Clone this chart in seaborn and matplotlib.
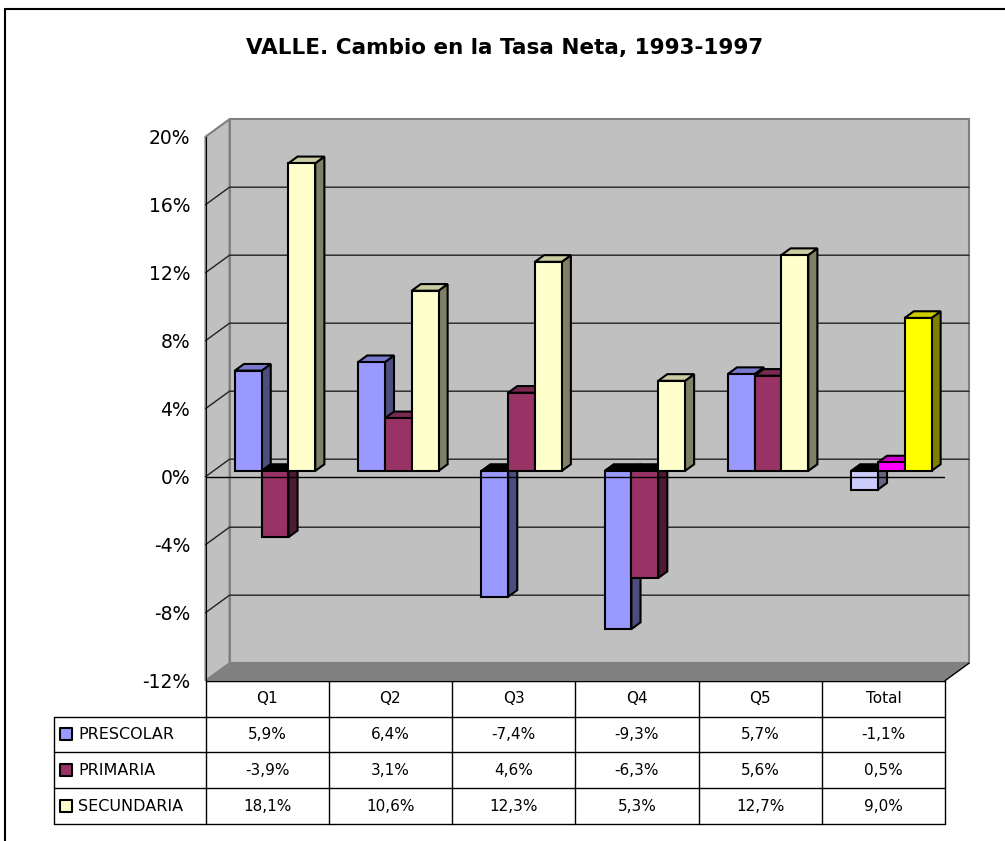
import matplotlib
matplotlib.use("Agg")
import matplotlib.pyplot as plt
from matplotlib.patches import Polygon, Rectangle
from matplotlib.lines import Line2D
from matplotlib.colors import to_rgb
import seaborn as sns
import pandas as pd

# datos
categorias = ["Q1", "Q2", "Q3", "Q4", "Q5", "Total"]
niveles = ["PRESCOLAR", "PRIMARIA", "SECUNDARIA"]
prescolar = [5.9, 6.4, -7.4, -9.3, 5.7, -1.1]
primaria = [-3.9, 3.1, 4.6, -6.3, 5.6, 0.5]
secundaria = [18.1, 10.6, 12.3, 5.3, 12.7, 9.0]
y_ticks = [-12, -8, -4, 0, 4, 8, 12, 16, 20]

colores = {"PRESCOLAR": "#9999FF", "PRIMARIA": "#993366", "SECUNDARIA": "#FFFFCC"}
colores_total = {"PRESCOLAR": "#CCCCFF", "PRIMARIA": "#FF00FF", "SECUNDARIA": "#FFFF00"}

df = pd.DataFrame({
    "Cuartil": categorias * 3,
    "Nivel": [n for n in niveles for _ in categorias],
    "Cambio": prescolar + primaria + secundaria,
})


def oscuro(c, f):
    r, g, b = to_rgb(c)
    return (r * f, g * f, b * f)


sns.set_style("white")
plt.rcParams["font.family"] = ["DejaVu Sans"]
plt.rcParams["text.color"] = "black"
plt.rcParams["ytick.color"] = "black"
plt.rcParams["xtick.color"] = "black"

W, H = 1005, 841
fig = plt.figure(figsize=(W / 100, H / 100), dpi=100)

# plano frontal del grafico (pixeles)
ax_l, ax_r, ax_t, ax_b = 205.5, 945, 136.7, 680.7
ax = fig.add_axes([ax_l / W, 1 - ax_b / H, (ax_r - ax_l) / W, (ax_b - ax_t) / H])

sns.barplot(data=df, x="Cuartil", y="Cambio", hue="Nivel", order=categorias,
            hue_order=niveles, palette=colores, width=0.6525, saturation=1,
            edgecolor="black", linewidth=1.5, legend=False, ax=ax)
bars = list(ax.patches)
ax.set_xlim(-0.5, 5.5)
ax.set_ylim(-12, 20)

# profundidad 3D en unidades de datos
DX = 24 / ((ax_r - ax_l) / 6)
DY = 17.5 / ((ax_b - ax_t) / 32)
F0, F1 = 0.33, 0.71

# paredes y piso
ax.add_patch(Rectangle((-0.5 + DX, -12 + DY), 6, 32, fc="#C0C0C0", ec="#808080",
                       lw=1.5, clip_on=False, zorder=0.5))
ax.add_patch(Polygon([(-0.5, -12), (-0.5, 20), (-0.5 + DX, 20 + DY), (-0.5 + DX, -12 + DY)],
                     fc="#C0C0C0", ec="#808080", lw=1.5, clip_on=False, zorder=0.5))
ax.add_patch(Polygon([(-0.5, -12), (5.5, -12), (5.5 + DX, -12 + DY), (-0.5 + DX, -12 + DY)],
                     fc="#808080", ec="none", clip_on=False, zorder=0.6))
ax.plot([5.5, 5.5 + DX], [-12, -12 + DY], color="black", lw=1, clip_on=False, zorder=0.7)
for v in y_ticks[1:-1]:
    ax.plot([-0.5, -0.5 + DX, 5.5 + DX], [v, v + DY, v + DY], color="#222222",
            lw=1, clip_on=False, zorder=0.7)

# barras 3D
info = []
for p in bars:
    cx = p.get_x() + p.get_width() / 2
    cat = int(round(cx))
    serie = niveles[int(round((cx - cat) / p.get_width())) + 1]
    info.append((cx, p, cat, serie))
info.sort(key=lambda t: t[0])

for i, (cx, p, cat, serie) in enumerate(info):
    color = colores_total[serie] if categorias[cat] == "Total" else colores[serie]
    p.set_facecolor(color)
    x0, w = p.get_x(), p.get_width()
    y0, h = p.get_y(), p.get_height()
    lo, hi = min(y0, y0 + h), max(y0, y0 + h)
    fx, fy = F0 * DX, F0 * DY
    dx, dy = (F1 - F0) * DX, (F1 - F0) * DY
    p.set_x(x0 + fx)
    p.set_y(y0 + fy)
    xl, xr = x0 + fx, x0 + fx + w
    yb, yt = lo + fy, hi + fy
    z = 3 + i * 0.05
    ax.add_patch(Polygon([(xr, yb), (xr + dx, yb + dy), (xr + dx, yt + dy), (xr, yt)],
                         fc=oscuro(color, 0.5), ec="black", lw=1.5, zorder=z, clip_on=False))
    techo = "black" if h < 0 else oscuro(color, 0.8)
    ax.add_patch(Polygon([(xl, yt), (xr, yt), (xr + dx, yt + dy), (xl + dx, yt + dy)],
                         fc=techo, ec="black", lw=1.5, zorder=z + 0.01, clip_on=False))
    p.set_zorder(z + 0.02)

ax.axhline(0, color="black", lw=1, zorder=20)

ax.patch.set_visible(False)
for s in ["top", "right"]:
    ax.spines[s].set_visible(False)
ax.spines["left"].set_color("black")
ax.spines["bottom"].set_color("black")
ax.spines["left"].set_zorder(21)
ax.set_xlabel("")
ax.set_ylabel("")
ax.set_xticks([])
ax.set_yticks(y_ticks)
ax.set_yticklabels([f"{t}%" for t in y_ticks], fontsize=13.5)
ax.tick_params(axis="y", length=7, width=1, color="black", pad=4, direction="out")

# tabla de datos
tx_l, tab_b = 54, 824
tab = fig.add_axes([tx_l / W, 1 - tab_b / H, (ax_r - tx_l) / W, (tab_b - ax_b) / H])
x_left = 5.5 - (ax_r - tx_l) / ((ax_r - ax_l) / 6)
tab.set_xlim(x_left, 5.5)
tab.set_ylim(0, 4)
tab.axis("off")

lk = dict(color="black", lw=1, clip_on=False)
tab.plot([-0.5, 5.5], [4, 4], **lk)
for yy in [3, 2, 1, 0]:
    tab.plot([x_left, 5.5], [yy, yy], **lk)
tab.plot([x_left, x_left], [0, 3], **lk)
for k in range(7):
    tab.plot([k - 0.5, k - 0.5], [0, 4], **lk)

for k, c in enumerate(categorias):
    tab.text(k, 3.5, c, ha="center", va="center", fontsize=11)

valores = {"PRESCOLAR": prescolar, "PRIMARIA": primaria, "SECUNDARIA": secundaria}
for r, n in enumerate(niveles):
    yy = 2.5 - r
    for k, v in enumerate(valores[n]):
        tab.text(k, yy, f"{v:.1f}%".replace(".", ","), ha="center", va="center", fontsize=11)
    tab.scatter([x_left + 12 / 123.25], [yy], marker="s", s=80, color=colores[n],
                edgecolors="black", linewidths=1.5, clip_on=False, zorder=5)
    tab.text(x_left + 24 / 123.25, yy, n, ha="left", va="center", fontsize=11.5)

# titulo y marco
fig.text(505 / W, 1 - 48 / H, "VALLE. Cambio en la Tasa Neta, 1993-1997",
         fontsize=15.5, fontweight="bold", ha="center", va="center")
fig.add_artist(Line2D([5 / W, 1], [1 - 9 / H, 1 - 9 / H], color="black", lw=1.5))
fig.add_artist(Line2D([5 / W, 5 / W], [0, 1 - 9 / H], color="black", lw=1.5))

fig.savefig("out.png", dpi=100)
